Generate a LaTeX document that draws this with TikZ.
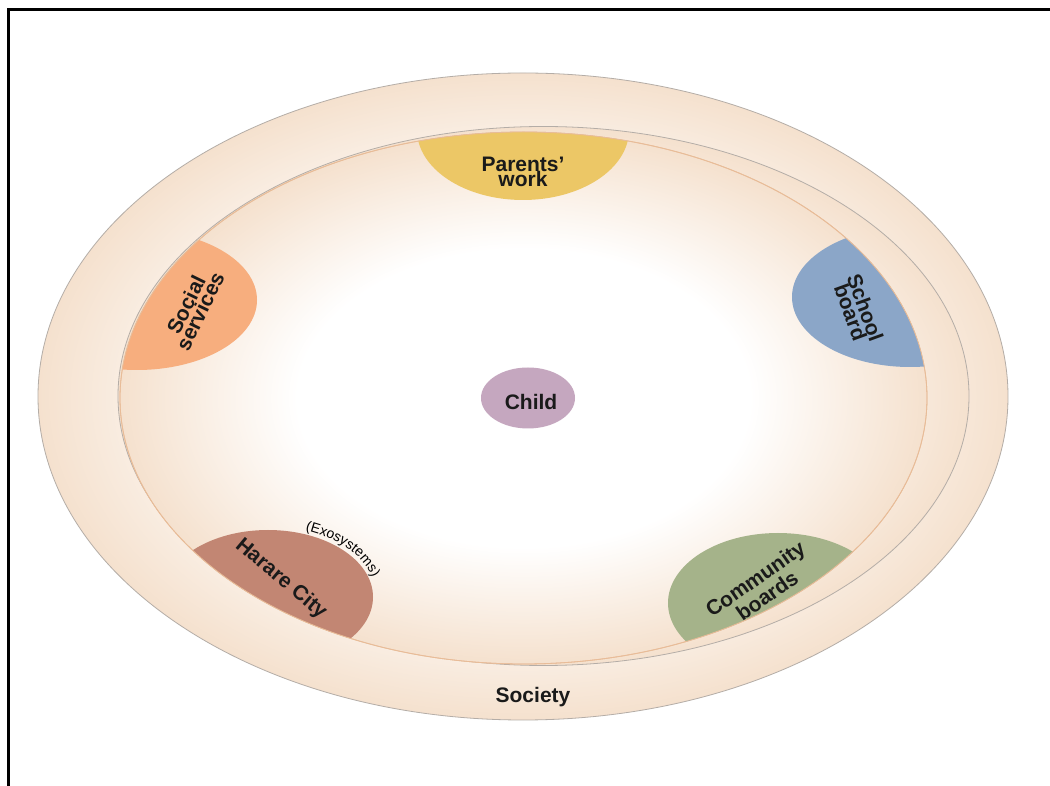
\documentclass[tikz,border=0pt]{standalone}
\usepackage{fontspec}
\setmainfont{Liberation Sans}
\usetikzlibrary{shapes.geometric,decorations.text}

\definecolor{peach}{RGB}{245,225,206}
\definecolor{rimgray}{RGB}{180,173,167}
\definecolor{rimorange}{RGB}{232,188,152}
\definecolor{parentsc}{RGB}{236,199,102}
\definecolor{schoolc}{RGB}{139,166,200}
\definecolor{socialc}{RGB}{247,174,126}
\definecolor{hararec}{RGB}{194,134,115}
\definecolor{communityc}{RGB}{165,179,138}
\definecolor{childc}{RGB}{197,167,191}
\definecolor{inkc}{RGB}{26,26,26}

\pgfdeclareradialshading{glow}{\pgfpoint{0bp}{0bp}}{color(0bp)=(white); color(14bp)=(white); color(25bp)=(peach); color(50bp)=(peach)}

\begin{document}
\begin{tikzpicture}[x=1pt,y=1pt,
ring/.style={shading=glow, draw=#1, line width=0.8pt},
lbl/.style={font=\bfseries\fontsize{21}{15.5}\selectfont, align=center, text=inkc, inner sep=0pt}]
\useasboundingbox (0,0) rectangle (1050,785);
\clip (0,0) rectangle (1050,785);
\fill[white] (0,0) rectangle (1050,785);
\draw[line width=2.5pt] (8.5,-20) |- (1080,775.5);

% society, exosystem and microsystem rings
\path[ring=rimgray] (523,388.5) ellipse [x radius=485, y radius=323.5];
\path[ring=rimgray] (543.5,389) ellipse [x radius=425.5, y radius=269.5];
\path[ring=rimorange] (523.5,387) ellipse [x radius=403.5, y radius=266];

\begin{scope}
\clip (523.5,387) ellipse [x radius=403.5, y radius=266];
\fill[parentsc] (523,655) ellipse [x radius=106, y radius=70];
\fill[schoolc] (910,488) ellipse [x radius=118, y radius=70];
\fill[socialc] (137,485) ellipse [x radius=120, y radius=70];
\fill[hararec] (268,188) ellipse [x radius=105, y radius=67];
\fill[communityc] (778,182) ellipse [x radius=110, y radius=70];
\end{scope}
\draw[rimorange, line width=0.8pt] (523.5,387) ellipse [x radius=403.5, y radius=266];

\node[ellipse, fill=childc, minimum width=94pt, minimum height=61pt] (child) at (528,387) {};
\node[lbl] (childtxt) at (531,383) {Child};
\node[lbl] (parents) at (523,613) {Parents’\\work};
\node[lbl, rotate=-70] (school) at (858,475) {School\\board};
\node[lbl, rotate=64] (social) at (193,477) {Social\\services};
\node[lbl, rotate=-40] (harare) at (281,206) {Harare City};
\node[lbl, rotate=35] (community) at (761,198) {Community\\boards};
\node[lbl] (society) at (533,88) {Society};

\path[decorate, decoration={text along path, text align=left,
  text={|\fontsize{14}{14}\selectfont|(Exosystems)}}]
  (305.3,254.7) arc [start angle=70, end angle=5, x radius=108, y radius=70];
\end{tikzpicture}
\end{document}
